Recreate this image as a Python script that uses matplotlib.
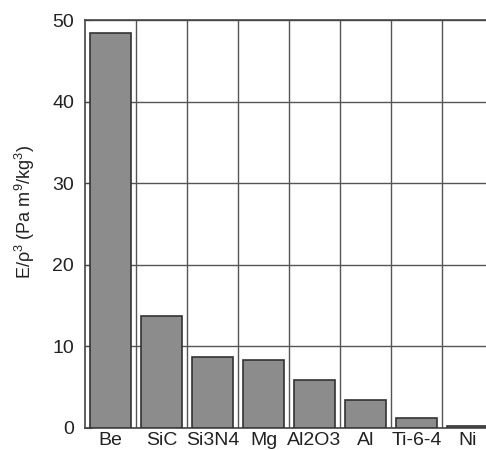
import matplotlib
matplotlib.use("Agg")
import matplotlib.pyplot as plt
import numpy as np

categories = ["Be", "SiC", "Si3N4", "Mg", "Al2O3", "Al", "Ti-6-4", "Ni"]
values = [48.4, 13.7, 8.7, 8.3, 5.9, 3.4, 1.2, 0.3]
yticks = [0, 10, 20, 30, 40, 50]

plt.rcParams['font.family'] = ['Liberation Sans', 'DejaVu Sans']
plt.rcParams['mathtext.fontset'] = 'custom'
plt.rcParams['mathtext.rm'] = 'Liberation Sans'

fig = plt.figure(figsize=(4.86, 4.5), dpi=100)
ax = fig.add_axes([85/486, 22/450, 408/486, 408/450])
x = np.arange(len(categories))
ax.bar(x, values, width=0.82, color='#8c8c8c', edgecolor='#333333', linewidth=1.2, zorder=3)
ax.set_xlim(-0.5, 7.5)
ax.set_ylim(0, 50)
ax.set_yticks(yticks)
ax.set_xticks(x)
ax.set_xticklabels(categories, fontsize=14, color='#222222')
ax.tick_params(axis='y', labelsize=14, labelcolor='#222222', direction='in', length=5, color='#444444', pad=8)
ax.tick_params(axis='x', length=0, pad=3)
ax.set_xticks(np.arange(0.5, 7.5, 1), minor=True)
ax.tick_params(axis='x', which='minor', length=0)
ax.grid(True, axis='y', which='major', color='#555555', linewidth=1.0, zorder=0)
ax.grid(True, axis='x', which='minor', color='#555555', linewidth=1.0, zorder=0)
for s in ax.spines.values():
    s.set_color('#444444')
    s.set_linewidth(1.2)
ax.set_ylabel("E/ρ$^3$ (Pa m$^9$/kg$^3$)", fontsize=13, color='#222222')
ax.yaxis.set_label_coords(-0.118, 0.53)
fig.savefig("out.png", dpi=100)
